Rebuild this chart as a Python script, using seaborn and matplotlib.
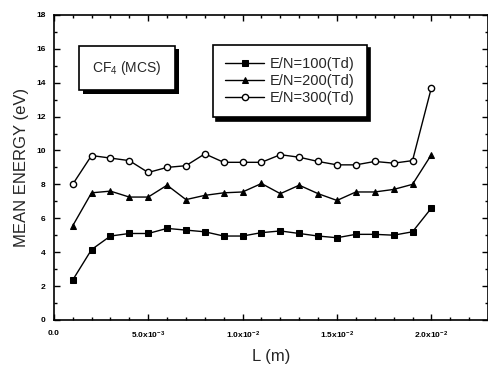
import numpy as np
import pandas as pd
import matplotlib
matplotlib.use("Agg")
import matplotlib.pyplot as plt
import matplotlib.patheffects as pe
from matplotlib.ticker import MultipleLocator, FixedLocator
import seaborn as sns

# distance L (m)
L = [0.001, 0.002, 0.003, 0.004, 0.005, 0.006, 0.007, 0.008, 0.009, 0.010,
     0.011, 0.012, 0.013, 0.014, 0.015, 0.016, 0.017, 0.018, 0.019, 0.020]

# mean energy (eV) per E/N
e100 = [2.35, 4.15, 4.95, 5.1, 5.1, 5.4, 5.3, 5.2, 4.95, 4.95,
        5.15, 5.25, 5.1, 4.95, 4.85, 5.05, 5.05, 5.0, 5.2, 6.6]
e200 = [5.55, 7.5, 7.6, 7.25, 7.25, 7.95, 7.1, 7.35, 7.5, 7.55,
        8.05, 7.45, 7.95, 7.45, 7.05, 7.55, 7.55, 7.7, 8.0, 9.75]
e300 = [8.0, 9.7, 9.55, 9.4, 8.7, 9.0, 9.1, 9.8, 9.3, 9.3,
        9.3, 9.75, 9.6, 9.35, 9.15, 9.15, 9.35, 9.25, 9.4, 13.7]

labels = ["E/N=100(Td)", "E/N=200(Td)", "E/N=300(Td)"]
xticks = [0.0, 0.005, 0.010, 0.015, 0.020]
xticklabels = ["0.0", r"5.0x10$^{-3}$", r"1.0x10$^{-2}$", r"1.5x10$^{-2}$", r"2.0x10$^{-2}$"]

sns.set_style("ticks")
plt.rcParams["font.family"] = ["Liberation Sans", "DejaVu Sans"]
plt.rcParams["mathtext.fontset"] = "custom"
plt.rcParams["mathtext.rm"] = "Liberation Sans:bold"
plt.rcParams["mathtext.it"] = "Liberation Sans:bold"

fig = plt.figure(figsize=(4.89, 3.72), dpi=100)
ax = fig.add_axes([0.110, 0.140, 0.888, 0.820])

sns.lineplot(x=L, y=e100, ax=ax, color="black", lw=1, marker="s", ms=4,
             mfc="black", mec="black", label=labels[0])
sns.lineplot(x=L, y=e200, ax=ax, color="black", lw=1, marker="^", ms=4.5,
             mfc="black", mec="black", label=labels[1])
sns.lineplot(x=L, y=e300, ax=ax, color="black", lw=1, marker="o", ms=4.5,
             mfc="white", mec="black", mew=1, label=labels[2])

ax.set_xlim(0, 0.023)
ax.set_ylim(0, 18)
ax.xaxis.set_major_locator(FixedLocator(xticks))
ax.set_xticklabels(xticklabels)
ax.xaxis.set_minor_locator(MultipleLocator(0.001))
ax.yaxis.set_major_locator(MultipleLocator(2))
ax.yaxis.set_minor_locator(MultipleLocator(1))
ax.tick_params(which="both", direction="in", top=True, right=True, width=1, colors="black")
ax.tick_params(which="major", length=4, labelsize=6)
ax.tick_params(which="minor", length=2)
ax.tick_params(axis="x", which="major", pad=7)
ax.tick_params(axis="y", which="major", pad=6)
for t in ax.get_xticklabels() + ax.get_yticklabels():
    t.set_fontweight("bold")
for s in ax.spines.values():
    s.set_linewidth(1.2)
    s.set_color("black")

ax.set_xlabel("L (m)", fontsize=12, labelpad=6)
ax.set_ylabel("MEAN ENERGY (eV)", fontsize=12, labelpad=5)

leg = ax.legend(loc="upper left", bbox_to_anchor=(0.366, 0.902), borderaxespad=0,
                fontsize=10.5, frameon=True, fancybox=False, edgecolor="black",
                handlelength=2.7, handletextpad=0.35, labelspacing=0.2, borderpad=0.85,
                shadow={"color": "black", "alpha": 1, "ox": 2.5, "oy": -2.5})
leg.get_frame().set_linewidth(1.2)
leg.get_frame().set_alpha(1)

txt = ax.text(0.169, 0.826, r"CF$_\mathregular{4}$ (MCS)", transform=ax.transAxes, fontsize=10,
              va="center", ha="center",
              bbox=dict(boxstyle="square,pad=0.95", fc="white", ec="black", lw=1.2))
txt.get_bbox_patch().set_path_effects([
    pe.SimplePatchShadow(offset=(2.5, -2.5), shadow_rgbFace="black", alpha=1),
    pe.Normal()])

fig.savefig("out.png", dpi=100)
